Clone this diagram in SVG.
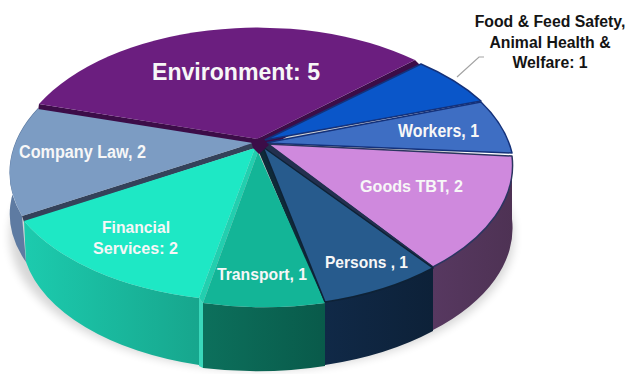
<svg xmlns="http://www.w3.org/2000/svg" width="631" height="374" viewBox="0 0 631 374">
<defs>
<filter id="blur" x="-20%" y="-20%" width="140%" height="140%"><feGaussianBlur stdDeviation="5"/></filter>
<linearGradient id="gFin" x1="0" y1="0" x2="1" y2="0"><stop offset="0" stop-color="#1CCBAE"/><stop offset="1" stop-color="#17A68D"/></linearGradient>
<linearGradient id="gTra" x1="0" y1="0" x2="1" y2="0"><stop offset="0" stop-color="#0C705C"/><stop offset="1" stop-color="#095A4A"/></linearGradient>
<linearGradient id="gPer" x1="0" y1="0" x2="1" y2="0"><stop offset="0" stop-color="#102947"/><stop offset="1" stop-color="#0D2138"/></linearGradient>
<linearGradient id="gGoo" x1="0" y1="0" x2="1" y2="0"><stop offset="0" stop-color="#573860"/><stop offset="1" stop-color="#4E3254"/></linearGradient>
</defs>
<style>
.lbl{font-family:"Liberation Sans Narrow","Liberation Sans",Arial,sans-serif;font-weight:bold;fill:#F7F7F7}
.blk{font-family:"Liberation Sans",Arial,sans-serif;font-weight:bold;fill:#141414;font-size:17px;text-anchor:middle}
.cut{stroke:none}
</style>
<rect width="631" height="374" fill="#FFFFFF"/>
<ellipse cx="262" cy="236" rx="252" ry="134" fill="#000" opacity="0.16" filter="url(#blur)"/>

<g id="environment">
<path class="cut" d="M39,104 L257,139 L415,60 L421,66 L262,150 L38,111 Z" fill="#3C0D48"/>
<path d="M257,139 L39,104 A 245 139 0 0 1 415,60 Z" fill="#6B1E7F"/>
<text class="lbl" x="152" y="80" font-size="24" textLength="168" lengthAdjust="spacingAndGlyphs">Environment: 5</text>
</g>

<g id="food">
<path d="M265,140 L421,64 A 250 139 0 0 1 481,101 Z" fill="#0A56C9" stroke="#14317A" stroke-width="1.5" stroke-linejoin="round"/>
</g>

<g id="workers">
<path d="M265,143 L481,102 A 250 139 0 0 1 512,153 Z" fill="#3E6EC3" stroke="#14317A" stroke-width="1.5" stroke-linejoin="round"/>
<text class="lbl" x="398" y="137" font-size="18" textLength="81" lengthAdjust="spacingAndGlyphs">Workers, 1</text>
</g>

<g id="company-law">
<path d="M22,216 A 250 139 0 0 1 38,108 L40,150 A 240 132 0 0 0 26,262 Z" fill="#5E7BA2"/>
<path class="cut" d="M253,143 L22,216 L24,222 L255,148 Z" fill="#34425A"/>
<path d="M253,143 L22,216 A 250 139 0 0 1 38,109 Z" fill="#7C9CC3"/>
<text class="lbl" x="19" y="158" font-size="18" textLength="127" lengthAdjust="spacingAndGlyphs">Company Law, 2</text>
</g>

<g id="goods-tbt">
<path d="M512,156 A 250 139 0 0 1 433,267 L433,330 A 250 139 0 0 0 512,219 Z" fill="url(#gGoo)"/>
<path d="M267,144 L512,156 A 250 139 0 0 1 433,267 Z" fill="#CF89DD" stroke="#2B3560" stroke-width="1.5" stroke-linejoin="round"/>
<text class="lbl" x="360" y="192" font-size="17" textLength="103" lengthAdjust="spacingAndGlyphs" fill="#F6ECF8">Goods TBT, 2</text>
</g>

<g id="financial-services">
<path d="M199,298 A 250 139 0 0 1 24,221 L26,262 A 240 132 0 0 0 199,365 Z" fill="url(#gFin)"/>
<path d="M199,298 L203,303 L203,368 L199,366 Z" fill="#3AD8BB"/>
<path d="M255,148 L199,298 L203,303 L258,152 Z" fill="#22CFAF"/>
<path d="M255,148 L199,298 A 250 139 0 0 1 24,221 Z" fill="#1EE8C5"/>
<text class="lbl" x="102" y="233" font-size="17" textLength="68" lengthAdjust="spacingAndGlyphs">Financial</text>
<text class="lbl" x="93" y="254" font-size="17" textLength="85" lengthAdjust="spacingAndGlyphs">Services: 2</text>
</g>

<g id="transport">
<path d="M325,303 A 250 139 0 0 1 203,303 L203,368 A 250 139 0 0 0 325,366 Z" fill="url(#gTra)"/>
<path class="cut" d="M258,150 L263,147 L325,302 L323,303 Z" fill="#0E2A38"/>
<path d="M258,152 L325,303 A 250 139 0 0 1 203,303 Z" fill="#13B597"/>
<text class="lbl" x="217" y="280" font-size="17" textLength="90" lengthAdjust="spacingAndGlyphs">Transport, 1</text>
</g>

<g id="persons">
<path d="M433,268 A 250 139 0 0 1 325,302 L325,365 A 250 139 0 0 0 433,331 Z" fill="url(#gPer)"/>
<path class="cut" d="M262,147 L268,143 L434,267 L432,269 Z" fill="#22304F"/>
<path d="M263,147 L433,268 A 250 139 0 0 1 325,302 Z" fill="#275B8D" stroke="#0E2236" stroke-width="1.5" stroke-linejoin="round"/>
<text class="lbl" x="325" y="268" font-size="17" textLength="83" lengthAdjust="spacingAndGlyphs">Persons , 1</text>
</g>

<g id="center">
<path d="M251,141 L262,137 L269,145 L259,154 L253,148 Z" fill="#3C0D48"/>
</g>

<g id="connectors">
<polyline points="457,77 479,57 484,57" fill="none" stroke="#A3A3A3" stroke-width="1.2"/>
</g>

<g id="food-label" transform="translate(550,0) scale(0.93,1)">
<text class="blk" x="0" y="27">Food &amp; Feed Safety,</text>
<text class="blk" x="0" y="48">Animal Health &amp;</text>
<text class="blk" x="0" y="68">Welfare: 1</text>
</g>
</svg>
